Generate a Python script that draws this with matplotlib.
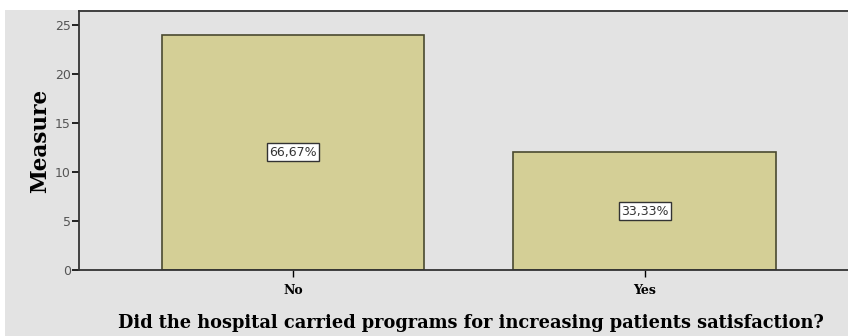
import matplotlib.pyplot as plt
from matplotlib.patches import Rectangle

categories = ['No', 'Yes']
counts = [24, 12]
pct_labels = ['66,67%', '33,33%']

fig = plt.figure(figsize=(8.48, 3.36), dpi=100)
fig.patch.set_facecolor('white')
# grey panel behind the chart
fig.patches.append(Rectangle((0.006, 0), 0.994, 0.97, transform=fig.transFigure,
                             facecolor='#e3e3e3', edgecolor='none', zorder=-10))

ax = fig.add_axes([0.0932, 0.196, 0.9068, 0.771])
ax.set_zorder(1)
ax.set_facecolor('#e3e3e3')

x = range(len(categories))
bars = ax.bar(x, counts, width=0.747, color='#d4cf96', edgecolor='#4a4a30', linewidth=1.2)

for xi, c, lab in zip(x, counts, pct_labels):
    ax.text(xi, c / 2, lab, ha='center', va='center', fontsize=9, color='#333333',
            bbox=dict(boxstyle='square,pad=0.2', facecolor='white', edgecolor='#333333', linewidth=1))

ax.set_xlim(-0.608, 1.577)
ax.set_ylim(0, 26.4)
ax.set_yticks([0, 5, 10, 15, 20, 25])
ax.set_xticks(list(x))
ax.set_xticklabels(categories, fontsize=9, fontweight='bold', family='DejaVu Serif')
ax.tick_params(axis='y', labelsize=9, labelcolor='#555555', length=5, width=1.2, pad=1)
ax.tick_params(axis='x', length=5, width=1, pad=5)

for side in ['left', 'bottom', 'top']:
    ax.spines[side].set_color('#333333')
    ax.spines[side].set_linewidth(1.3)
ax.spines['right'].set_visible(False)

ax.set_ylabel('Measure', fontsize=15.5, fontweight='bold', family='DejaVu Serif', labelpad=3)
fig.text(0.555, 0.04, 'Did the hospital carried programs for increasing patients satisfaction?',
         ha='center', va='center', fontsize=12.8, fontweight='bold', family='DejaVu Serif')

fig.savefig('out.png', dpi=100)
